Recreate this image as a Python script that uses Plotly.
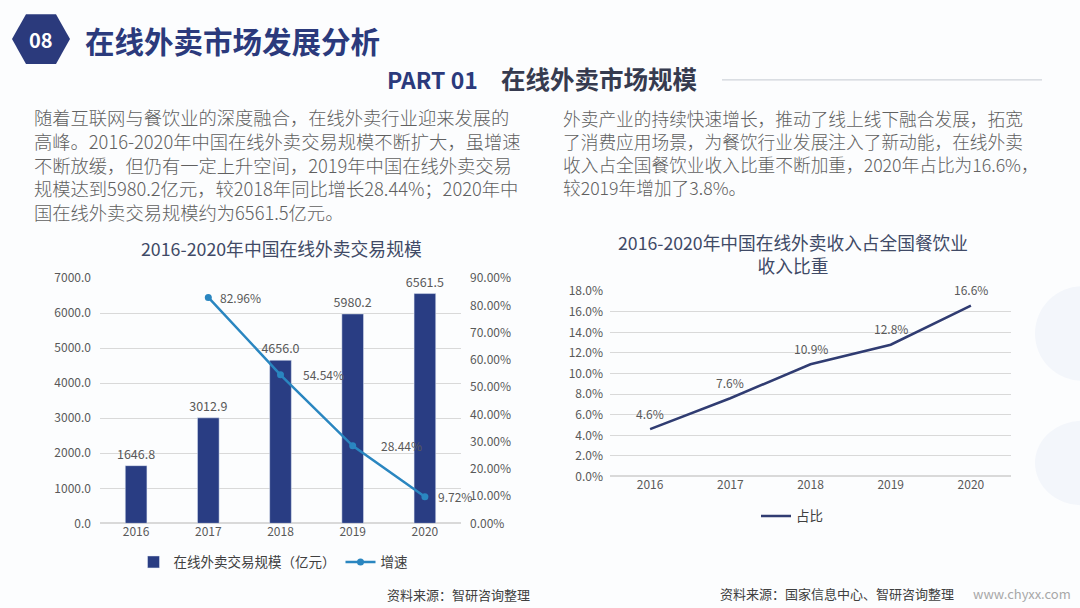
import plotly.graph_objects as go

W, H = 1080, 608
def px(x): return x / W
def py(y):
    # empirical vertical compensation for the capture
    yy = (y - 7.8) / 0.9756
    return 1 - yy / H

# ---------------- data ----------------
years = ["2016", "2017", "2018", "2019", "2020"]
scale_values = [1646.8, 3012.9, 4656.0, 5980.2, 6561.5]          # 亿元
growth_years = ["2017", "2018", "2019", "2020"]
growth_values = [82.96, 54.54, 28.44, 9.72]                        # %
share_values = [4.6, 7.6, 10.9, 12.8, 16.6]                        # %

bar_name = "在线外卖交易规模（亿元）"
growth_name = "增速"
share_name = "占比"

left_title = "2016-2020年中国在线外卖交易规模"
right_title = "2016-2020年中国在线外卖收入占全国餐饮业<br>收入比重"
left_par = [
    "随着互联网与餐饮业的深度融合，在线外卖行业迎来发展的",
    "高峰。2016-2020年中国在线外卖交易规模不断扩大，虽增速",
    "不断放缓，但仍有一定上升空间，2019年中国在线外卖交易",
    "规模达到5980.2亿元，较2018年同比增长28.44%；2020年中",
    "国在线外卖交易规模约为6561.5亿元。",
]
right_par = [
    "外卖产业的持续快速增长，推动了线上线下融合发展，拓宽",
    "了消费应用场景，为餐饮行业发展注入了新动能，在线外卖",
    "收入占全国餐饮业收入比重不断加重，2020年占比为16.6%，",
    "较2019年增加了3.8%。",
]

NAVY = "#2b3a7c"
BAR = "#293d83"
LINE_BLUE = "#2a86c0"
LINE_NAVY = "#303c72"
TXT = "#595959"
PAR = "#606060"
GRID = "#d9d9d9"
FONT = "Noto Sans CJK SC"

fig = go.Figure()

fig.add_trace(go.Bar(
    x=years, y=scale_values, name=bar_name, xaxis="x", yaxis="y",
    marker_color=BAR, width=0.3,
    text=[f"{v:.1f}" for v in scale_values], textposition="outside",
    constraintext="none",
    textfont=dict(family=FONT, size=12.5, color=TXT), cliponaxis=False,
    legend="legend",
))
fig.add_trace(go.Scatter(
    x=growth_years, y=growth_values, name=growth_name, xaxis="x", yaxis="y2",
    mode="lines+markers", line=dict(color=LINE_BLUE, width=2.5),
    marker=dict(size=7, color=LINE_BLUE), cliponaxis=False,
    legend="legend",
))
fig.add_trace(go.Scatter(
    x=years, y=share_values, name=share_name, xaxis="x2", yaxis="y3",
    mode="lines", line=dict(color=LINE_NAVY, width=2.5), cliponaxis=False,
    legend="legend2",
))

tickfont = dict(family=FONT, size=12, color=TXT)

fig.update_layout(
    width=W, height=H,
    margin=dict(l=0, r=0, t=0, b=0),
    paper_bgcolor="#fcfdfe", plot_bgcolor="rgba(0,0,0,0)",
    font=dict(family=FONT, color=TXT),
    xaxis=dict(domain=[px(100), px(461)], anchor="y", type="category",
               range=[-0.5, 4.5],
               showgrid=False, showline=False, ticks="", tickfont=tickfont),
    yaxis=dict(domain=[py(523), py(277)], range=[0, 7000], dtick=1000,
               tickformat=".1f", gridcolor=GRID, zeroline=True, zerolinecolor=GRID,
               showline=False, tickfont=tickfont, ticklabelstandoff=8),
    yaxis2=dict(overlaying="y", anchor="x", side="right", range=[0, 90], dtick=10,
                tickformat=".2f", ticksuffix="%", showgrid=False, zeroline=False,
                showline=False, tickfont=tickfont, ticklabelstandoff=8),
    xaxis2=dict(domain=[px(610), px(1011)], anchor="y3", type="category",
                range=[-0.5, 4.5],
                showgrid=False, showline=False, ticks="", tickfont=tickfont),
    yaxis3=dict(domain=[py(476), py(290)], anchor="x2", range=[0, 18], dtick=2,
                tickformat=".1f", ticksuffix="%", gridcolor=GRID, zeroline=True,
                zerolinecolor=GRID, showline=False, tickfont=tickfont,
                ticklabelstandoff=6),
    legend=dict(orientation="h", x=px(273), xanchor="center", y=py(562), yanchor="middle",
                font=dict(family=FONT, size=13.5, color="#404040"),
                bgcolor="rgba(0,0,0,0)", itemwidth=30),
    legend2=dict(orientation="h", x=px(792), xanchor="center", y=py(516), yanchor="middle",
                 font=dict(family=FONT, size=13.5, color="#404040"),
                 bgcolor="rgba(0,0,0,0)", itemwidth=30),
    showlegend=True,
)

# ---------------- header & faint background decoration ----------------
hexa = [(12, 37), (26, 12), (56, 12), (70, 37), (56, 62), (26, 62)]
path = "M " + " L ".join(f"{px(x):.5f},{py(y):.5f}" for x, y in hexa) + " Z"
shapes = [
    dict(type="circle", xref="paper", yref="paper", x0=px(1035), x1=px(1130),
         y0=py(380), y1=py(285), fillcolor="#f3f6fb", line=dict(width=0), layer="below"),
    dict(type="circle", xref="paper", yref="paper", x0=px(1035), x1=px(1130),
         y0=py(505), y1=py(420), fillcolor="#f3f6fb", line=dict(width=0), layer="below"),
    dict(type="path", path=path, xref="paper", yref="paper",
         fillcolor=NAVY, line=dict(width=0), layer="below"),
    dict(type="line", xref="paper", yref="paper", x0=px(722), x1=px(1042),
         y0=py(78), y1=py(78), line=dict(color="#cfd3da", width=1.2)),
]

def ann(text, x, y, size, color, xanchor="center", weight=None, align="center"):
    f = dict(family=FONT, size=size, color=color)
    if weight:
        f["weight"] = weight
    return dict(text=text, x=px(x), y=py(y), xref="paper", yref="paper",
                xanchor=xanchor, yanchor="middle", showarrow=False, font=f,
                align=align)

annotations = [
    ann("<b>08</b>", 41, 37, 20, "white"),
    ann("<b>在线外卖市场发展分析</b>", 83, 38, 29.5, NAVY, "left"),
    ann("<b>PART 01</b>", 385, 77, 23, NAVY, "left"),
    ann("<b>在线外卖市场规模</b>", 499, 77, 24.5, "#363b4f", "left"),
    ann(left_title, 281, 247, 17.8, "#404a66"),
    ann(right_title, 793, 252, 17.7, "#404a66"),
    ann("资料来源：智研咨询整理", 458, 594, 13, "#404040"),
    ann("资料来源：国家信息中心、智研咨询整理", 837, 593, 13, "#404040"),
    ann("www.chyxx.com", 1022, 593, 13, "#a8a8a8"),
    ann("<br>".join(left_par), 32, 162.4, 18.3, PAR, "left", 300, "left"),
    ann("<br>".join(right_par), 561, 151, 17.7, PAR, "left", 300, "left"),
]

# data labels for growth line (right of each point)
growth_gap = [10, 20, 26, 11]
for yr, v, g in zip(growth_years, growth_values, growth_gap):
    annotations.append(dict(text=f"{v:.2f}%", x=years.index(yr), y=v, xref="x", yref="y2",
                            xanchor="left", yanchor="middle", xshift=g, showarrow=False,
                            font=dict(family=FONT, size=12, color=TXT)))
# data labels for share line (above each point)
for i, (yr, v) in enumerate(zip(years, share_values)):
    annotations.append(dict(text=f"{v:.1f}%", x=i, y=v, xref="x2", yref="y3",
                            xanchor="center", yanchor="middle", yshift=16, showarrow=False,
                            font=dict(family=FONT, size=12, color=TXT)))

fig.update_layout(shapes=shapes, annotations=annotations)
fig.write_html("out.html")
